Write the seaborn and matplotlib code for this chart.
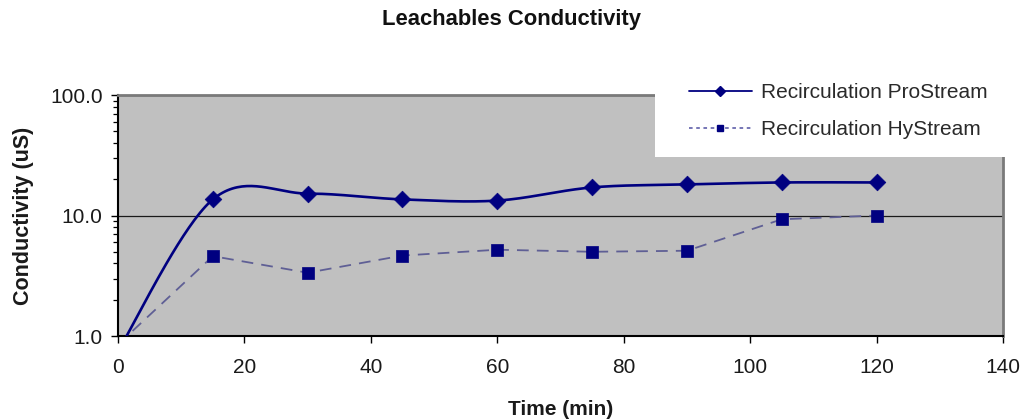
import numpy as np
import pandas as pd
import matplotlib
matplotlib.use("Agg")
import matplotlib.pyplot as plt
from matplotlib.lines import Line2D
from matplotlib.patches import Rectangle
from matplotlib.ticker import FixedLocator, LogLocator, FuncFormatter, NullFormatter
import seaborn as sns

# ---- data -------------------------------------------------------------
time_min = [0, 15, 30, 45, 60, 75, 90, 105, 120]
prostream = [0.75, 13.6, 15.2, 13.6, 13.3, 17.1, 18.1, 18.8, 18.8]
hystream = [0.85, 4.6, 3.35, 4.65, 5.2, 5.0, 5.1, 9.3, 10.0]
series_names = ["Recirculation ProStream", "Recirculation HyStream"]
x_ticks = [0, 20, 40, 60, 80, 100, 120, 140]
y_ticks = [1, 10, 100]

title = "Leachables Conductivity"
x_label = "Time (min)"
y_label = "Conductivity (uS)"

NAVY = "#000080"
DASH_COL = "#5f5f95"
PLOT_BG = "#c0c0c0"


def smooth_curve(x, y, n=40):
    """Bezier smoothing through every point (Catmull-Rom tangents) in log-y space."""
    px = np.asarray(x, float)
    py = np.log10(np.asarray(y, float))
    ex = np.r_[px[0], px, px[-1]]
    ey = np.r_[py[0], py, py[-1]]
    t = np.linspace(0, 1, n)[:, None]
    pts = []
    for i in range(len(px) - 1):
        p0 = np.array([ex[i + 1], ey[i + 1]])
        p3 = np.array([ex[i + 2], ey[i + 2]])
        b1 = p0 + (np.array([ex[i + 2], ey[i + 2]]) - np.array([ex[i], ey[i]])) / 6
        b2 = p3 - (np.array([ex[i + 3], ey[i + 3]]) - np.array([ex[i + 1], ey[i + 1]])) / 6
        seg = ((1 - t) ** 3) * p0 + 3 * ((1 - t) ** 2) * t * b1 \
            + 3 * (1 - t) * t ** 2 * b2 + t ** 3 * p3
        pts.append(seg if i == 0 else seg[1:])
    pts = np.vstack(pts)
    return pts[:, 0], 10 ** pts[:, 1]


sns.set_theme(style="white")
plt.rcParams["font.family"] = ["Liberation Sans", "DejaVu Sans"]

fig = plt.figure(figsize=(10.23, 4.19), dpi=100)
ax = fig.add_axes([118 / 1023, 1 - 336 / 419, 885 / 1023, 241 / 419])
ax.set_facecolor(PLOT_BG)

df = pd.DataFrame({"time": time_min, "pro": prostream, "hy": hystream})
sx, sy = smooth_curve(time_min, prostream)
smooth_df = pd.DataFrame({"time": sx, "pro": sy})

# horizontal gridline at each decade
ax.set_yscale("log")
ax.set_ylim(1, 100)
ax.set_xlim(0, 140)
ax.yaxis.grid(True, which="major", color="#1a1a1a", lw=0.9)
ax.set_axisbelow(True)

# HyStream: straight dashed segments with square markers
sns.lineplot(data=df, x="time", y="hy", ax=ax, color=DASH_COL, lw=1.3,
             estimator=None, sort=False, zorder=2)
ax.lines[-1].set_dashes((6.5, 4.5))
sns.scatterplot(data=df, x="time", y="hy", ax=ax, marker="s", s=85,
                color=NAVY, edgecolor=NAVY, linewidth=0.5, zorder=4)

# ProStream: smoothed solid line with diamond markers
sns.lineplot(data=smooth_df, x="time", y="pro", ax=ax, color=NAVY, lw=1.9,
             estimator=None, sort=False, zorder=3)
sns.scatterplot(data=df, x="time", y="pro", ax=ax, marker="D", s=72,
                color=NAVY, edgecolor=NAVY, linewidth=0.5, zorder=5)

# axes styling
ax.xaxis.set_major_locator(FixedLocator(x_ticks))
ax.yaxis.set_major_locator(FixedLocator(y_ticks))
ax.yaxis.set_minor_locator(LogLocator(base=10, subs=np.arange(2, 10)))
ax.yaxis.set_minor_formatter(NullFormatter())
ax.yaxis.set_major_formatter(FuncFormatter(lambda v, _: f"{v:.1f}"))
ax.tick_params(axis="both", which="major", direction="out", length=5,
               width=1.0, color="black", labelsize=15, labelcolor="#1a1a1a",
               left=True, bottom=True)
ax.tick_params(axis="y", which="minor", direction="out", length=3.5,
               width=0.9, color="black", left=True)
ax.tick_params(axis="x", pad=11)
ax.tick_params(axis="y", pad=6)

for side in ("left", "bottom"):
    ax.spines[side].set_color("black")
    ax.spines[side].set_linewidth(1.5)
for side in ("top", "right"):
    ax.spines[side].set_color("#7a7a7a")
    ax.spines[side].set_linewidth(2.0)

ax.set_xlabel(x_label, fontsize=15, fontweight="bold", color="#1a1a1a")
ax.set_ylabel(y_label, fontsize=15.5, fontweight="bold", color="#1a1a1a")
ax.xaxis.set_label_coords(0.5, -0.265)
ax.yaxis.set_label_coords(-0.095, 0.5)

fig.text(0.5, 1 - 20 / 419, title, ha="center", va="center",
         fontsize=15.8, fontweight="bold", color="#111111")

# legend on a white panel in the upper right corner
fig.add_artist(Rectangle((655 / 1023, 1 - 157 / 419), 368 / 1023, 90 / 419,
                         transform=fig.transFigure, facecolor="white",
                         edgecolor="none", zorder=3))
handles = [
    Line2D([], [], color=NAVY, lw=1.3, marker="D", markersize=5,
           markerfacecolor=NAVY, markeredgecolor=NAVY),
    Line2D([], [], color="#6b6bb0", lw=1.3, linestyle=(0, (2, 2)), marker="s",
           markersize=4.5, markerfacecolor=NAVY, markeredgecolor=NAVY),
]
leg = fig.legend(handles, series_names, loc="upper left",
                 bbox_to_anchor=(689 / 1023, 1 - 83 / 419),
                 bbox_transform=fig.transFigure, frameon=False, fontsize=15,
                 handlelength=3.0, handletextpad=0.45, labelspacing=0.87,
                 borderpad=0, borderaxespad=0)
leg.set_zorder(6)
for txt in leg.get_texts():
    txt.set_color("#2a2a2a")

fig.savefig("out.png", dpi=100)
